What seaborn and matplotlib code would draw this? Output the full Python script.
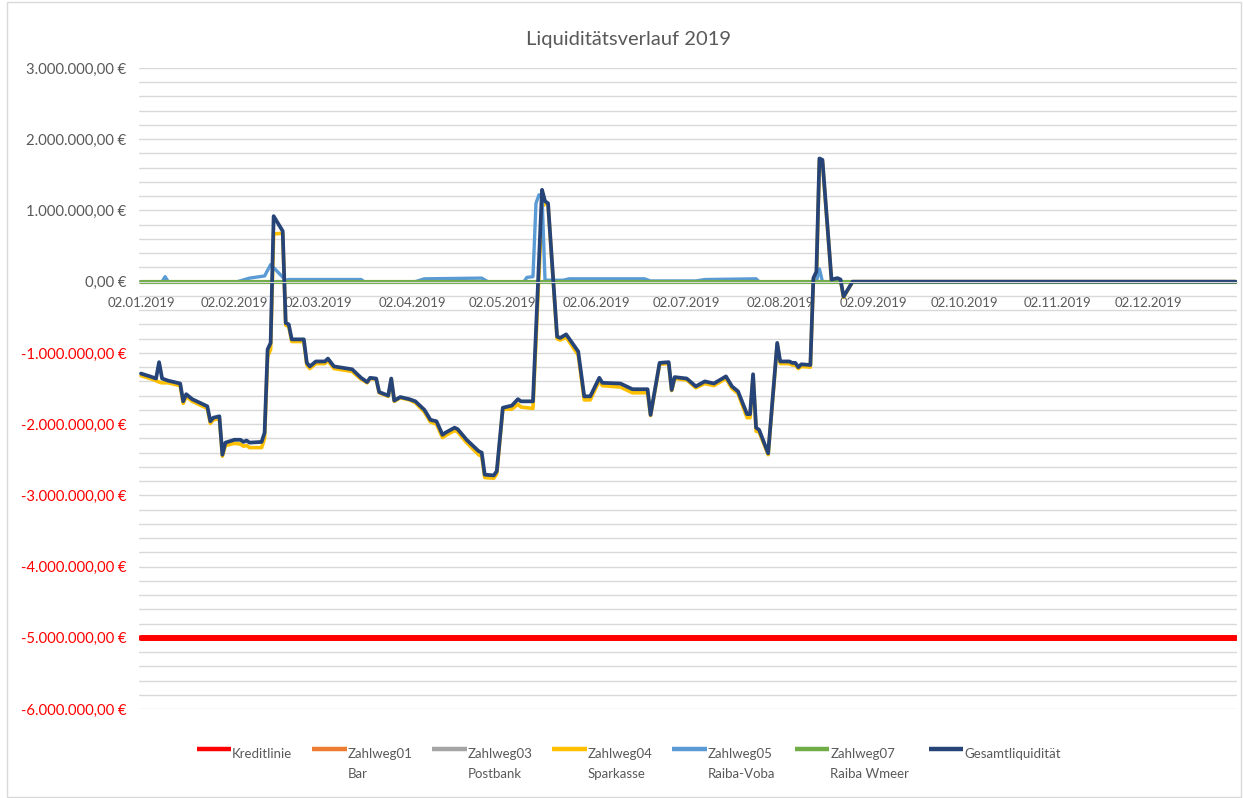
import numpy as np
import pandas as pd
import seaborn as sns
import matplotlib.pyplot as plt
from matplotlib.lines import Line2D
from matplotlib.patches import Rectangle
from matplotlib.legend_handler import HandlerLine2D

# Werte in Mio. EUR
dates = ['2019-01-02', '2019-01-05', '2019-01-07', '2019-01-08', '2019-01-09', '2019-01-11',
         '2019-01-15', '2019-01-16', '2019-01-17', '2019-01-19', '2019-01-23', '2019-01-24',
         '2019-01-25', '2019-01-26', '2019-01-28', '2019-01-29', '2019-01-30', '2019-02-02',
         '2019-02-04', '2019-02-05', '2019-02-06', '2019-02-07', '2019-02-11', '2019-02-12',
         '2019-02-13', '2019-02-14', '2019-02-15', '2019-02-18', '2019-02-19', '2019-02-20',
         '2019-02-21', '2019-02-25', '2019-02-26', '2019-02-27', '2019-03-01', '2019-03-04',
         '2019-03-05', '2019-03-07', '2019-03-13', '2019-03-16', '2019-03-18', '2019-03-19',
         '2019-03-21', '2019-03-22', '2019-03-25', '2019-03-26', '2019-03-27', '2019-03-29',
         '2019-04-01', '2019-04-03', '2019-04-06', '2019-04-08', '2019-04-10', '2019-04-12',
         '2019-04-13', '2019-04-16', '2019-04-17', '2019-04-20', '2019-04-24', '2019-04-25',
         '2019-04-26', '2019-04-29', '2019-04-30', '2019-05-02', '2019-05-05', '2019-05-07',
         '2019-05-08', '2019-05-12', '2019-05-15', '2019-05-16', '2019-05-17', '2019-05-20',
         '2019-05-21', '2019-05-23', '2019-05-27', '2019-05-29', '2019-05-31', '2019-06-03',
         '2019-06-04', '2019-06-10', '2019-06-14', '2019-06-19', '2019-06-20', '2019-06-23',
         '2019-06-26', '2019-06-27', '2019-06-28', '2019-07-02', '2019-07-05', '2019-07-08',
         '2019-07-11', '2019-07-15', '2019-07-17', '2019-07-19', '2019-07-22', '2019-07-23',
         '2019-07-24', '2019-07-25', '2019-07-26', '2019-07-29', '2019-08-01', '2019-08-02',
         '2019-08-05', '2019-08-06', '2019-08-07', '2019-08-08', '2019-08-09', '2019-08-12',
         '2019-08-13', '2019-08-14', '2019-08-15', '2019-08-16', '2019-08-19', '2019-08-21',
         '2019-08-22', '2019-08-23', '2019-08-26', '2019-12-31']

gesamt = [-1.29, -1.33, -1.36, -1.13, -1.36, -1.39,
          -1.43, -1.68, -1.58, -1.65, -1.73, -1.75,
          -1.96, -1.91, -1.89, -2.43, -2.26, -2.22,
          -2.22, -2.25, -2.23, -2.26, -2.25, -2.12,
          -0.95, -0.86, 0.92, 0.71, -0.58, -0.60,
          -0.81, -0.81, -1.14, -1.19, -1.12, -1.12,
          -1.08, -1.19, -1.23, -1.35, -1.41, -1.35,
          -1.36, -1.55, -1.60, -1.36, -1.67, -1.62,
          -1.65, -1.68, -1.80, -1.94, -1.96, -2.15,
          -2.12, -2.05, -2.07, -2.22, -2.38, -2.40,
          -2.71, -2.72, -2.66, -1.77, -1.74, -1.65,
          -1.68, -1.68, 1.29, 1.13, 1.10, -0.77,
          -0.79, -0.74, -0.98, -1.61, -1.61, -1.35,
          -1.42, -1.43, -1.51, -1.51, -1.87, -1.14,
          -1.13, -1.52, -1.34, -1.36, -1.47, -1.40,
          -1.43, -1.33, -1.47, -1.54, -1.86, -1.86,
          -1.30, -2.05, -2.08, -2.41, -0.86, -1.12,
          -1.12, -1.14, -1.14, -1.20, -1.16, -1.17,
          0.05, 0.14, 1.73, 1.71, 0.03, 0.05,
          0.03, -0.21, 0.00, 0.00]

sparkasse = [-1.32, -1.36, -1.39, -1.41, -1.42, -1.42,
             -1.46, -1.71, -1.61, -1.68, -1.76, -1.78,
             -1.99, -1.94, -1.92, -2.45, -2.30, -2.27,
             -2.28, -2.31, -2.30, -2.33, -2.33, -2.20,
             -1.05, -0.95, 0.67, 0.68, -0.61, -0.63,
             -0.84, -0.84, -1.17, -1.22, -1.15, -1.15,
             -1.11, -1.22, -1.26, -1.37, -1.42, -1.36,
             -1.37, -1.56, -1.61, -1.37, -1.68, -1.63,
             -1.66, -1.70, -1.83, -1.97, -2.00, -2.19,
             -2.16, -2.09, -2.11, -2.26, -2.43, -2.45,
             -2.75, -2.76, -2.70, -1.79, -1.79, -1.72,
             -1.76, -1.78, 1.05, 1.10, 1.08, -0.80,
             -0.82, -0.78, -1.03, -1.66, -1.66, -1.39,
             -1.46, -1.48, -1.56, -1.56, -1.88, -1.16,
             -1.15, -1.53, -1.36, -1.38, -1.49, -1.43,
             -1.46, -1.36, -1.50, -1.57, -1.91, -1.91,
             -1.33, -2.10, -2.11, -2.43, -0.88, -1.15,
             -1.15, -1.17, -1.17, -1.22, -1.19, -1.20,
             0.03, 0.02, 1.70, 1.69, 0.02, 0.03,
             0.02, -0.22, 0.00, 0.00]

voba_dates = ['2019-01-02', '2019-01-09', '2019-01-10', '2019-01-11', '2019-02-03', '2019-02-07',
              '2019-02-12', '2019-02-14', '2019-02-19', '2019-02-20', '2019-03-16', '2019-03-17',
              '2019-04-03', '2019-04-06', '2019-04-25', '2019-04-27', '2019-05-09', '2019-05-10',
              '2019-05-12', '2019-05-13', '2019-05-14', '2019-05-15', '2019-05-16', '2019-05-22',
              '2019-05-24', '2019-06-18', '2019-06-20', '2019-07-05', '2019-07-08', '2019-07-25',
              '2019-07-26', '2019-08-14', '2019-08-15', '2019-08-16', '2019-12-31']
voba = [0.00, 0.00, 0.07, 0.00, 0.00, 0.05,
        0.08, 0.24, 0.02, 0.03, 0.03, 0.00,
        0.00, 0.04, 0.05, 0.00, 0.00, 0.06,
        0.07, 1.10, 1.22, 1.20, 0.02, 0.02,
        0.04, 0.04, 0.01, 0.01, 0.03, 0.04,
        0.00, 0.00, 0.18, 0.00, 0.00]

flat_dates = ['2019-01-02', '2019-12-31']
bar = [0.0, 0.0]
postbank = [0.0, 0.0]
wmeer = [0.0, 0.0]
kreditlinie = [-5.0, -5.0]

month_ticks = ['2019-01-02', '2019-02-02', '2019-03-02', '2019-04-02', '2019-05-02', '2019-06-02',
               '2019-07-02', '2019-08-02', '2019-09-02', '2019-10-02', '2019-11-02', '2019-12-02']
y_major = [-6, -5, -4, -3, -2, -1, 0, 1, 2, 3]

series = [
    ('Kreditlinie', '', flat_dates, kreditlinie, '#FF0000', 4.3),
    ('Zahlweg01', 'Bar', flat_dates, bar, '#ED7D31', 2.8),
    ('Zahlweg03', 'Postbank', flat_dates, postbank, '#A5A5A5', 2.8),
    ('Zahlweg04', 'Sparkasse', dates, sparkasse, '#FFC000', 2.6),
    ('Zahlweg05', 'Raiba-Voba', voba_dates, voba, '#5B9BD5', 2.4),
    ('Zahlweg07', 'Raiba Wmeer', flat_dates, wmeer, '#70AD47', 3.0),
    ('Gesamtliquidität', '', dates, gesamt, '#264478', 2.7),
]

frames = []
for name, sub, d, v, c, lw in series:
    frames.append(pd.DataFrame({'serie': name, 'datum': pd.to_datetime(d), 'wert': v}))
df = pd.concat(frames, ignore_index=True)

sns.set_style('white')
plt.rcParams['font.family'] = ['Lato', 'DejaVu Sans']
grey = '#595959'
leg_fs = 9.5
leg_spacing = 1.7

fig = plt.figure(figsize=(12.43, 7.98), dpi=100)
ax = fig.add_axes([0.1118, 0.1115, 0.8834, 0.8033])

for name, sub, d, v, c, lw in series:
    sns.lineplot(data=df[df['serie'] == name], x='datum', y='wert', color=c, lw=lw,
                 estimator=None, legend=False, ax=ax, solid_joinstyle='round')

ax.set_ylim(-6, 3)
ax.set_xlim(pd.Timestamp('2019-01-01 08:00'), pd.Timestamp('2019-12-31 12:00'))


def euro(v):
    if abs(v) < 1e-9:
        v = 0.0
    s = f"{v * 1e6:,.2f}".replace(',', ' ').replace('.', ',').replace(' ', '.')
    return s + ' €'


ax.set_yticks(y_major)
ax.set_yticklabels([euro(v) for v in y_major])
for t, v in zip(ax.get_yticklabels(), y_major):
    t.set_color('#FF0000' if v < 0 else grey)
ax.set_yticks([i / 5 for i in range(-30, 16)], minor=True)
ax.yaxis.grid(True, which='both', color='#D9D9D9', lw=1)
ax.xaxis.grid(False)
ax.set_axisbelow(True)

ax.set_xticks(pd.to_datetime(month_ticks))
ax.set_xticklabels(pd.to_datetime(month_ticks).strftime('%d.%m.%Y'))

for s in ['top', 'right', 'left']:
    ax.spines[s].set_visible(False)
ax.spines['bottom'].set_position(('data', 0))
ax.spines['bottom'].set_color('#D9D9D9')
ax.tick_params(axis='x', length=0, pad=11, labelsize=9.5, labelcolor=grey)
ax.tick_params(axis='y', length=0, pad=9, labelsize=10.7)
ax.tick_params(axis='y', which='minor', length=0)
ax.set_xlabel('')
ax.set_ylabel('')

fig.text(0.506, 1 - 40 / 798, 'Liquiditätsverlauf 2019', ha='center', va='center',
         fontsize=14.5, color=grey)


# Legendenlinie auf Höhe der ersten Textzeile (wie in Excel)
class FirstLineHandler(HandlerLine2D):
    def create_artists(self, legend, orig_handle, xdescent, ydescent, width, height,
                       fontsize, trans):
        artists = super().create_artists(legend, orig_handle, xdescent, ydescent, width,
                                         height, fontsize, trans)
        for a in artists:
            a.set_ydata(np.asarray(a.get_ydata()) + 11.0)
        return artists


handles = [Line2D([], [], color=c, lw=3.2, solid_capstyle='butt')
           for name, sub, d, v, c, lw in series]
labels = [name + '\n' + (sub if sub else ' ') for name, sub, d, v, c, lw in series]
leg = fig.legend(handles, labels, loc='center', ncol=7, frameon=False,
                 bbox_to_anchor=(0.506, 1 - 764 / 798), fontsize=leg_fs, labelcolor=grey,
                 handlelength=2.6, handletextpad=0.08, columnspacing=1.5,
                 handler_map={Line2D: FirstLineHandler()})
for t in leg.get_texts():
    t.set_linespacing(leg_spacing)

fig.patches.append(Rectangle((0.006, 0.001), 0.992, 0.997, transform=fig.transFigure,
                             fill=False, edgecolor='#D9D9D9', lw=1))

fig.savefig('out.png', dpi=100)
